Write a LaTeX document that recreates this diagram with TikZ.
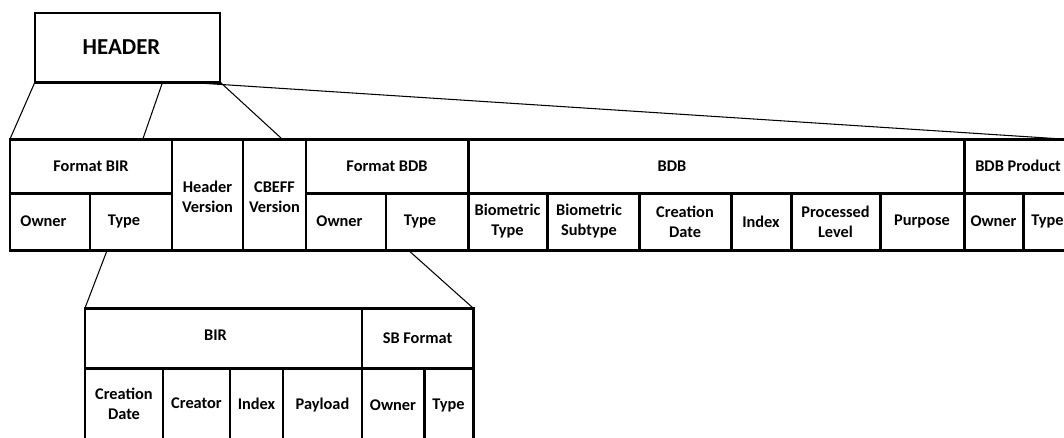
\documentclass[tikz,border=0pt]{standalone}
\usepackage{fontspec}
\setmainfont{Carlito}
\usetikzlibrary{fit,calc}

\tikzset{
  cell/.style={rectangle, draw, line width=1.7pt, inner sep=0pt, outer sep=0pt},
  every label/.style={align=center},
  link/.style={line width=0.6pt}
}

\begin{document}
\begin{tikzpicture}[x=0.02cm, y=-0.02cm, font=\fontsize{9.3}{11.4}\selectfont\bfseries]
\useasboundingbox (0,0) rectangle (1064,437);
\clip (0,0) rectangle (1064,437);
% top box
\node [cell, fit={(35,13) (220,82)}, label={[font=\fontsize{13}{15}\selectfont\bfseries, xshift=-0.12cm]center:HEADER}] (header) {};
% main record, first row
\node [cell, fit={(10,139) (172,193)}, label=center:Format BIR] (fbir) {};
\node [cell, fit={(172,139) (243,250)}, label={[yshift=-0.05cm]center:Header\\Version}] (hver) {};
\node [cell, fit={(243,139) (306,250)}, label={[yshift=-0.05cm]center:CBEFF\\Version}] (cver) {};
\node [cell, fit={(306,139) (468,193)}, label=center:Format BDB] (fbdb) {};
\node [cell, fit={(468,139) (964,193)}, label={[xshift=-0.88cm]center:BDB}] (bdb) {};
\node [cell, fit={(964,139) (1072,193)}, label=center:BDB Product] (bdbp) {};
% main record, second row
\node [cell, fit={(10,193) (90,250)}, label={[xshift=-0.13cm]center:Owner}] (fbirown) {};
\node [cell, fit={(90,193) (172,250)}, label={[xshift=-0.14cm]center:Type}] (fbirtype) {};
\node [cell, fit={(306,193) (386,250)}, label={[xshift=-0.13cm]center:Owner}] (fbdbown) {};
\node [cell, fit={(386,193) (468,250)}, label={[xshift=-0.14cm]center:Type}] (fbdbtype) {};
\node [cell, fit={(468,193) (547,250)}, label={center:Biometric\\Type}] (btype) {};
\node [cell, fit={(547,193) (639,250)}, label={[xshift=-0.08cm]center:Biometric\\Subtype}] (bsub) {};
\node [cell, fit={(639,193) (731,250)}, label={center:Creation\\Date}] (cdate) {};
\node [cell, fit={(731,193) (791,250)}, label=center:Index] (index) {};
\node [cell, fit={(791,193) (880,250)}, label={center:Processed\\Level}] (plevel) {};
\node [cell, fit={(880,193) (964,250)}, label=center:Purpose] (purpose) {};
\node [cell, fit={(964,193) (1023,250)}, label=center:Owner] (pown) {};
\node [cell, fit={(1023,193) (1072,250)}, label=center:Type] (ptype) {};
% sub record
\node [cell, fit={(85,308) (362,368)}, label={[xshift=-0.16cm, yshift=0.05cm]center:BIR}] (bir) {};
\node [cell, fit={(362,308) (473,368)}, label=center:SB Format] (sbf) {};
\node [cell, fit={(85,368) (163,442)}, label={[yshift=0.03cm]center:Creation\\Date}] (sdate) {};
\node [cell, fit={(163,368) (230,442)}, label={[yshift=0.03cm]center:Creator}] (creator) {};
\node [cell, fit={(230,368) (283,442)}, label={[yshift=0.03cm]center:Index}] (sindex) {};
\node [cell, fit={(283,368) (362,442)}, label=center:Payload] (payload) {};
\node [cell, fit={(362,368) (424,442)}, label=center:Owner] (sown) {};
\node [cell, fit={(424,368) (473,442)}, label=center:Type] (stype) {};
% zoom lines
\draw [link] (header.south west) -- (fbir.north west);
\draw [link] ($(header.south west)!0.69!(header.south east)$) -- ($(fbir.north west)!0.82!(fbir.north east)$);
\draw [link] (header.south east) -- ($(cver.north west)!0.62!(cver.north east)$);
\draw [link] ($(header.south west)!0.8!(header.south east)$) -- ($(bdbp.north west)!0.91!(bdbp.north east)$);
\draw [link] ($(fbirtype.south west)!0.21!(fbirtype.south east)$) -- (bir.north west);
\draw [link] ($(fbdbtype.south west)!0.27!(fbdbtype.south east)$) -- (sbf.north east);
\end{tikzpicture}
\end{document}
